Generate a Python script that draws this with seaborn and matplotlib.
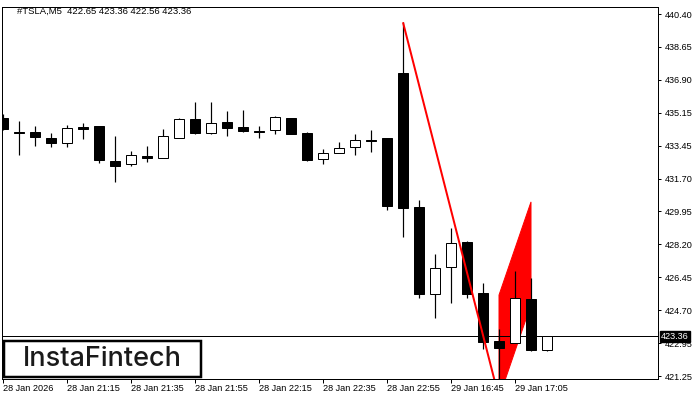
import numpy as np
import pandas as pd
import matplotlib
matplotlib.use("Agg")
import matplotlib.pyplot as plt
from matplotlib.patches import Rectangle, Polygon
import seaborn as sns

# ---------------- data ----------------
symbol_title = "#TSLA,M5  422.65 423.36 422.56 423.36"
opens = [434.88, 434.15, 434.16, 433.82, 433.59, 434.42, 434.47, 432.62, 432.45, 432.89,
         432.80, 433.86, 434.83, 434.12, 434.67, 434.42, 434.20, 434.25, 434.90, 434.10,
         432.71, 433.03, 433.35, 433.76, 433.84, 437.28, 430.21, 425.57, 427.00, 428.35,
         425.62, 423.10, 423.01, 425.34, 422.65]
highs = [435.11, 434.74, 434.47, 434.10, 434.53, 434.62, 434.47, 433.95, 433.15, 433.42,
         434.32, 434.90, 435.74, 435.74, 435.27, 435.32, 434.47, 435.02, 434.90, 434.16,
         433.24, 433.63, 434.05, 434.26, 433.84, 439.96, 430.56, 427.69, 429.06, 428.41,
         426.19, 423.74, 426.80, 426.45, 423.36]
lows = [434.25, 432.94, 433.43, 433.38, 433.38, 433.80, 432.53, 431.53, 432.38, 432.59,
        432.80, 433.86, 434.05, 434.07, 433.96, 434.17, 433.86, 434.07, 434.07, 432.65,
        432.48, 433.03, 432.96, 433.11, 430.03, 428.61, 425.39, 424.30, 425.13, 425.36,
        422.69, 420.10, 423.00, 422.57, 422.56]
closes = [434.32, 434.10, 433.91, 433.59, 434.35, 434.32, 432.68, 432.38, 432.93, 432.78,
          433.93, 434.83, 434.12, 434.62, 434.39, 434.23, 434.15, 434.95, 434.07, 432.69,
          433.03, 433.30, 433.72, 433.70, 430.24, 430.15, 425.59, 426.95, 428.27, 425.60,
          423.07, 422.75, 425.39, 422.63, 423.36]

x_tick_idx = [0, 4, 8, 12, 16, 20, 24, 28, 32]
x_tick_labels = ["28 Jan 2026", "28 Jan 21:15", "28 Jan 21:35", "28 Jan 21:55", "28 Jan 22:15",
                 "28 Jan 22:35", "28 Jan 22:55", "29 Jan 16:45", "29 Jan 17:05"]
y_tick_labels = ["440.40", "438.65", "436.90", "435.15", "433.45", "431.70",
                 "429.95", "428.20", "426.45", "424.70", "422.95", "421.25"]
y_top, y_bottom = 440.40, 421.25
last_price = 423.36

# flag pattern (bar index, price)
pole_x = [25, 31]
pole_y = [439.96, 420.10]
flag_x = [31, 33, 33, 31]
flag_y = [425.53, 430.46, 425.03, 420.10]

# ---------------- plotting ----------------
sns.set_theme(style="white")
plt.rcParams["font.family"] = ["Liberation Sans", "DejaVu Sans"]

df = pd.DataFrame({"open": opens, "high": highs, "low": lows, "close": closes})
df["idx"] = np.arange(len(df))
df["bull"] = df["close"] >= df["open"]
df["bottom"] = df[["open", "close"]].min(axis=1)
df["height"] = (df["open"] - df["close"]).abs().clip(lower=0.04)

fig = plt.figure(figsize=(7, 4), dpi=100)
fig.patch.set_facecolor("white")
ax = fig.add_axes([2 / 700, 21 / 400, 656 / 700, 372 / 400])
ax.set_facecolor("white")

px = 1 / 1.3889  # one pixel in points
fs = 6.6

# flag polygon (behind candles)
ax.add_patch(Polygon(list(zip(flag_x, flag_y)), closed=True, facecolor="#ff0000",
                     edgecolor="#ff0000", lw=px, zorder=1))

# current price line
ax.axhline(last_price, color="black", lw=px, zorder=1.5)

# wicks
ax.vlines(df["idx"], df["low"], df["high"], color="black", lw=px * 1.2, zorder=2)
# bodies
ax.bar(df["idx"], df["height"], bottom=df["bottom"], width=0.625,
       color=np.where(df["bull"], "white", "black"), edgecolor="black",
       lw=px, zorder=3)

# pole line (on top)
ax.plot(pole_x, pole_y, color="#ff0000", lw=2 * px, zorder=4, solid_capstyle="butt")

# scales
ppp = (y_top - y_bottom) / 362.0
ax.set_ylim(y_bottom - 3 * ppp, y_top + 7 * ppp)
ax.set_xlim(-1 / 16, 655 / 16)

ytick_pos = np.linspace(y_top, y_bottom, len(y_tick_labels))
ax.yaxis.tick_right()
ax.set_yticks(ytick_pos)
ax.set_yticklabels(y_tick_labels)
ax.set_xticks(x_tick_idx)
ax.set_xticklabels(x_tick_labels, ha="left")
ax.tick_params(axis="y", which="both", direction="out", length=3.5 * px, width=px,
               color="black", labelsize=fs, labelcolor="black", pad=3 * px, right=True, left=False)
ax.tick_params(axis="x", which="both", direction="out", length=4 * px, width=px,
               color="black", labelsize=fs, labelcolor="black", pad=1.5 * px, bottom=True)
for lab in ax.get_xticklabels():
    lab.set_horizontalalignment("left")
for s in ax.spines.values():
    s.set_color("black")
    s.set_linewidth(px)
    s.set_visible(True)
ax.grid(False)

# title text
ax.text(15 / 656, 1 - 4 / 372, symbol_title, transform=ax.transAxes, ha="left", va="center",
        fontsize=fs + 0.2, color="black", zorder=6)

# current price box
ax.text(1 + 3 / 656, last_price, f"{last_price:.2f}", transform=ax.get_yaxis_transform(),
        ha="left", va="center", fontsize=fs, color="white", zorder=10, clip_on=False,
        bbox=dict(boxstyle="square,pad=0.12", facecolor="black", edgecolor="black"))

# logo box
fig.patches.append(Rectangle((3.5 / 700, (400 - 377) / 400), 197 / 700, 36 / 400,
                             transform=fig.transFigure, facecolor="white",
                             edgecolor="black", lw=2.5 * px, zorder=20))
fig.text(102 / 700, (400 - 359.5) / 400, "InstaFintech", ha="center", va="center",
         fontsize=19.5, family=["Inter", "DejaVu Sans"], fontweight="medium",
         color="#1a1a1a", zorder=21)

fig.savefig("out.png", dpi=100, facecolor="white")
